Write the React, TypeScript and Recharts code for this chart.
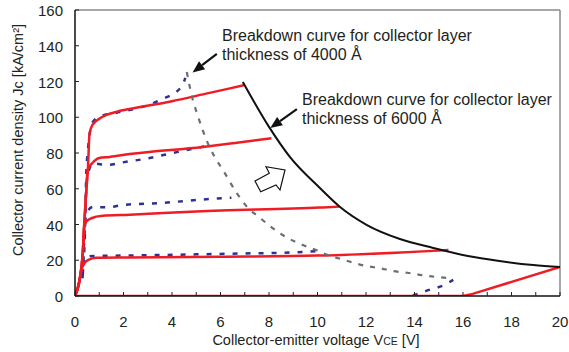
import { LineChart, Line, XAxis, YAxis, ReferenceLine, Customized } from 'recharts';

// red: collector layer 6000 Å
const red1V = [0, 0.19, 0.32, 0.39, 0.46, 0.53, 0.6, 0.72, 1.1, 1.7, 2.25, 4, 5.5, 7];
const red1J = [0, 9, 24, 42.5, 57.6, 70.5, 91, 95.7, 100, 103, 104.6, 109, 113.5, 118];
const red2V = [0, 0.19, 0.32, 0.39, 0.46, 0.52, 0.72, 1.0, 1.43, 2.25, 5.27, 6.6, 8.1];
const red2J = [0, 9, 24, 42.5, 57.6, 70.5, 74.4, 77.2, 77.8, 79.4, 83.4, 85.6, 88.2];
const red3V = [0, 0.19, 0.32, 0.38, 0.46, 0.67, 1.14, 2.25, 5, 10.1, 10.9];
const red3J = [0, 9, 24, 38.8, 41.5, 43.5, 44.9, 45.5, 47.3, 49.5, 50];
const red4V = [0, 0.19, 0.3, 0.53, 0.88, 2.25, 6, 10, 15.4];
const red4J = [0, 9, 16, 20.1, 21.4, 21.6, 22, 22.6, 25.8];
const red5V = [0, 16, 16.4, 20];
const red5J = [0, 0, 1.2, 16.2];

// blue dashed: collector layer 4000 Å
const blue1V = [0.3, 0.42, 0.46, 0.49, 0.53, 0.6, 0.74, 1.14, 1.7, 3.5, 4.39, 4.55];
const blue1J = [10, 40, 66.8, 75, 81.7, 90, 97.5, 101, 102.5, 109.6, 117, 122];
const blue2V = [0.32, 0.4, 0.5, 0.74, 1.34, 1.9, 3, 4.2, 5.45];
const blue2J = [12, 40, 66, 74.2, 73.3, 74.6, 77, 80.5, 84];
const blue3V = [0.32, 0.4, 0.5, 0.74, 1.3, 2, 3.5, 5.3, 6.45];
const blue3J = [12, 38, 47, 49.8, 49.6, 50.9, 52, 54, 55];
const blue4V = [0.3, 0.36, 0.74, 1.3, 3, 5, 7, 9.4, 10.2];
const blue4J = [10, 21, 22.4, 22.5, 22.8, 23.3, 23.8, 24.6, 25.4];
const blue5V = [0, 13.5, 14.1, 14.6, 15.2, 15.6];
const blue5J = [-0.6, -0.6, 1, 3.4, 6, 9];

// breakdown curves
const bd4000V = [4.61, 4.86, 5.06, 5.43, 5.76, 6.1, 6.67, 7.1, 7.6, 8.15, 8.7, 9.4, 10, 10.4, 10.9, 11.5, 12.0, 12.6, 13.1, 13.7, 14.3, 14.85, 15.5];
const bd4000J = [125.3, 109.6, 101, 87, 77.8, 70.5, 57.6, 49.8, 44, 38, 33, 28.5, 25.4, 23, 21, 18.5, 16.8, 15.5, 14, 13, 11.7, 10.7, 10];
const bd6000V = [6.92, 8.0, 8.86, 10.1, 10.93, 12.04, 13.4, 14.77, 16.2, 17.5, 18.9, 20];
const bd6000J = [119.7, 94.6, 77.8, 60.4, 49.8, 39.7, 31.9, 26.9, 22.4, 19.6, 17.3, 16.2];

const xTicks = Array.from({ length: 21 }, (_, i) => i);
const yTicks = [0, 20, 40, 60, 80, 100, 120, 140, 160];

const toPts = (v: number[], j: number[]) => v.map((x, i) => ({ v: x, j: j[i] }));

const redCurves = [toPts(red1V, red1J), toPts(red2V, red2J), toPts(red3V, red3J), toPts(red4V, red4J)];
const blueCurves = [toPts(blue1V, blue1J), toPts(blue2V, blue2J), toPts(blue3V, blue3J), toPts(blue4V, blue4J), toPts(blue5V, blue5J)];

const FONT = '"Liberation Sans", Arial, sans-serif';
const TXT = '#231f20';

const XTick = (props: any) => {
  const { x, y, payload } = props;
  const v = payload.value;
  return (
    <g>
      <line x1={x} y1={y} x2={x} y2={y - 4} stroke="#222" strokeWidth={1} />
      {v % 2 === 0 && (
        <text x={x} y={y + 31} textAnchor="middle" fontFamily={FONT} fontSize={15} fill={TXT}>
          {v}
        </text>
      )}
    </g>
  );
};

const YTick = (props: any) => {
  const { x, y, payload } = props;
  return (
    <g>
      <line x1={x} y1={y} x2={x + 4} y2={y} stroke="#222" strokeWidth={1} />
      <text x={x - 12} y={y + 6} textAnchor="end" fontFamily={FONT} fontSize={15} fill={TXT}>
        {payload.value}
      </text>
    </g>
  );
};

const Pointer = (props: any) => {
  const { x1, y1, x2, y2 } = props;
  const ang = Math.atan2(y2 - y1, x2 - x1);
  const len = 12;
  const w = 5;
  const bx = x2 - len * Math.cos(ang);
  const by = y2 - len * Math.sin(ang);
  const px = -Math.sin(ang) * w;
  const py = Math.cos(ang) * w;
  return (
    <g>
      <line x1={x1} y1={y1} x2={bx} y2={by} stroke="#111" strokeWidth={2.2} />
      <polygon points={`${x2},${y2} ${bx + px},${by + py} ${bx - px},${by - py}`} fill="#111" />
    </g>
  );
};

const Notes = () => (
  <g fontFamily={FONT} fill={TXT}>
    <g fontSize={16}>
      <text x={222} y={41}>Breakdown curve for collector layer</text>
      <text x={222} y={60}>thickness of 4000 Å</text>
      <text x={302} y={105}>Breakdown curve for collector layer</text>
      <text x={302} y={124}>thickness of 6000 Å</text>
    </g>
    <polygon
      points="255,181 269.3,173.3 266,166.7 285,170 280,190 276,185 260.7,191.7"
      fill="#fff"
      stroke="#111"
      strokeWidth={1.2}
      strokeLinejoin="miter"
    />
    <text x={18} y={140} transform="rotate(-90 18 140)" textAnchor="middle" dominantBaseline="central" fontSize={14.5}>
      Collector current density Jc [kA/cm²]
    </text>
    <text x={316} y={345} textAnchor="middle" fontSize={14.5}>
      Collector-emitter voltage V<tspan fontSize={10.5}>CE</tspan> [V]
    </text>
  </g>
);

export default function App() {
  return (
    <div style={{ position: 'absolute', left: 0, top: 0, background: '#fff' }}>
      <LineChart width={569} height={352} margin={{ top: 10, right: 9, left: 15, bottom: 26 }}>
        <XAxis
          type="number"
          dataKey="v"
          domain={[0, 20]}
          ticks={xTicks}
          interval={0}
          allowDataOverflow
          tickSize={0}
          tickMargin={0}
          tickLine={false}
          axisLine={{ stroke: '#111', strokeWidth: 1.5 }}
          tick={<XTick />}
          height={30}
        />
        <YAxis
          type="number"
          dataKey="j"
          domain={[0, 160]}
          ticks={yTicks}
          interval={0}
          allowDataOverflow
          tickSize={0}
          tickMargin={0}
          tickLine={false}
          axisLine={{ stroke: '#111', strokeWidth: 1.5 }}
          tick={<YTick />}
          width={60}
        />
        <ReferenceLine y={160} stroke="#8a8a8a" strokeWidth={1.5} />
        <ReferenceLine x={20} stroke="#8a8a8a" strokeWidth={1.5} />
        {blueCurves.map((d, i) => (
          <Line
            key={'b' + i}
            data={d}
            dataKey="j"
            type="monotone"
            stroke="#2e3192"
            strokeWidth={2.5}
            strokeDasharray="5 8"
            dot={false}
            isAnimationActive={false}
          />
        ))}
        {redCurves.map((d, i) => (
          <Line
            key={'r' + i}
            data={d}
            dataKey="j"
            type="monotone"
            stroke="#ee1c25"
            strokeWidth={2.5}
            dot={false}
            isAnimationActive={false}
          />
        ))}
        <Line
          data={toPts(red5V, red5J)}
          dataKey="j"
          type="linear"
          stroke="#ee1c25"
          strokeWidth={2.5}
          dot={false}
          isAnimationActive={false}
        />
        <Line
          data={toPts(bd4000V, bd4000J)}
          dataKey="j"
          type="monotone"
          stroke="#6d6e71"
          strokeWidth={2.2}
          strokeDasharray="5 7"
          dot={false}
          isAnimationActive={false}
        />
        <Line
          data={toPts(bd6000V, bd6000J)}
          dataKey="j"
          type="monotone"
          stroke="#111"
          strokeWidth={2}
          dot={false}
          isAnimationActive={false}
        />
        <ReferenceLine
          segment={[{ x: 5.85, y: 135.5 }, { x: 4.85, y: 125 }]}
          shape={(p: any) => <Pointer {...p} />}
        />
        <ReferenceLine
          segment={[{ x: 9.15, y: 104.5 }, { x: 8.05, y: 94 }]}
          shape={(p: any) => <Pointer {...p} />}
        />
        <Customized component={Notes} />
      </LineChart>
    </div>
  );
}
